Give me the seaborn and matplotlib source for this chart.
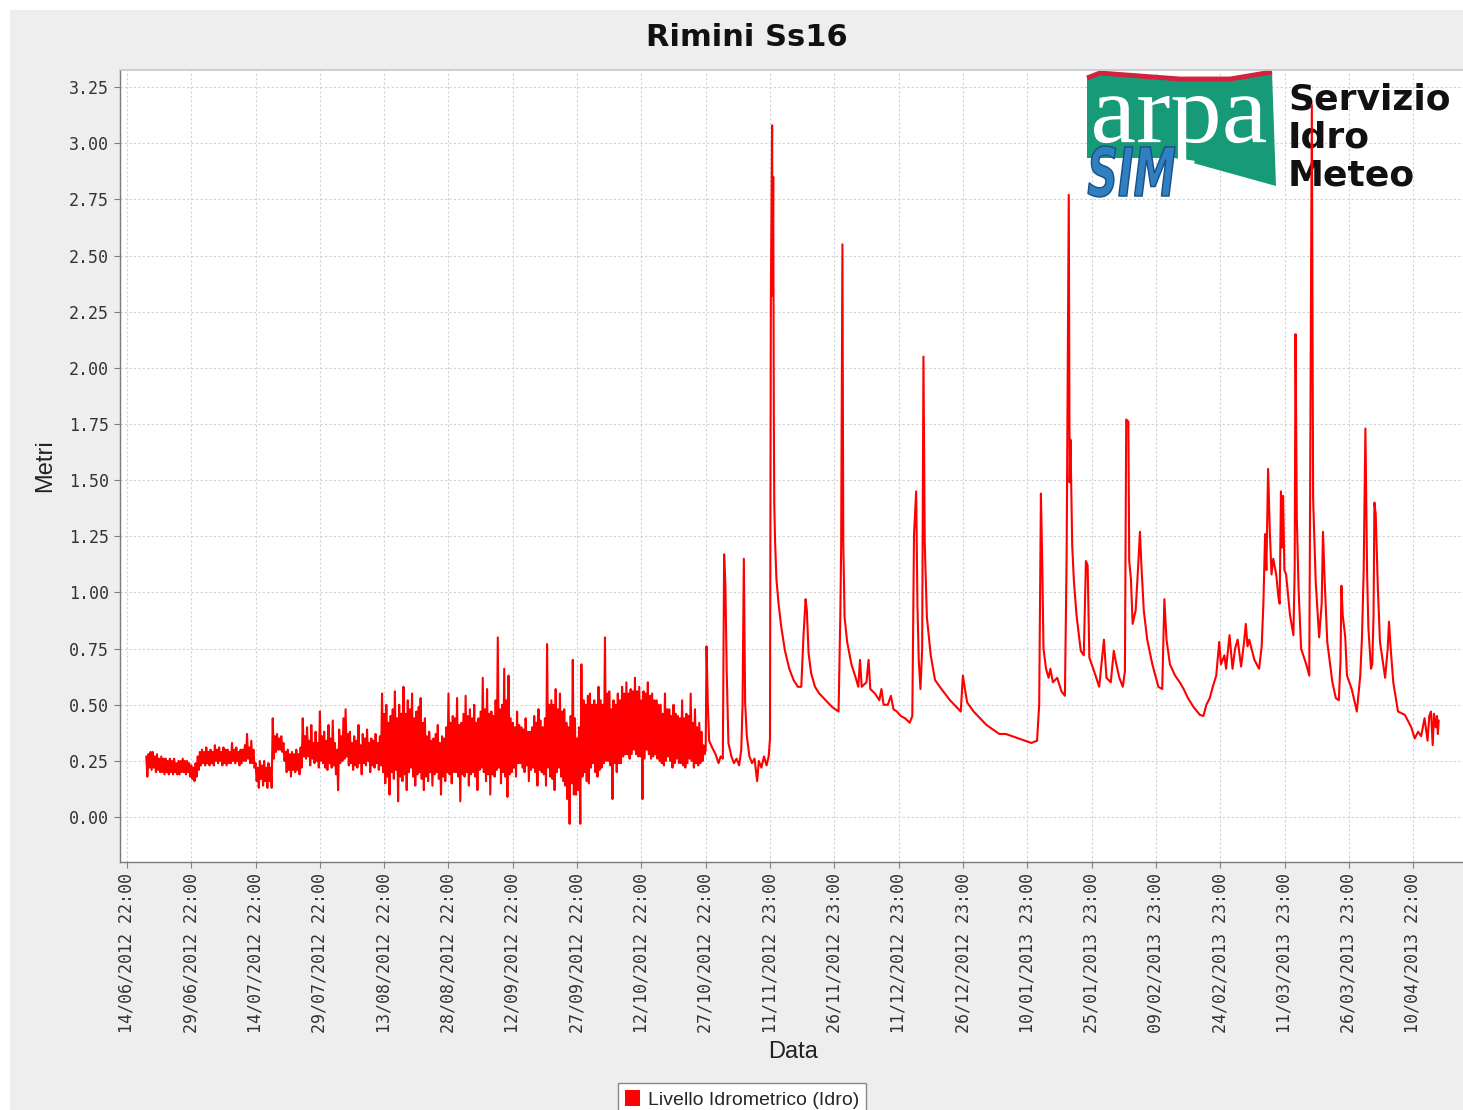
import numpy as np
import pandas as pd
import matplotlib
matplotlib.use("Agg")
import matplotlib.pyplot as plt
import seaborn as sns
from matplotlib.patches import Polygon, PathPatch, Rectangle, Patch
from matplotlib.textpath import TextPath
from matplotlib.font_manager import FontProperties, fontManager
from matplotlib.transforms import Affine2D

# ---------------------------------------------------------------------------
# Water level at Rimini Ss16 (metres), days counted from 14/06/2012 22:00
# ---------------------------------------------------------------------------
dense_start_day = 4.5
half_day = 0.5

# Summer / autumn: highest and lowest reading in each half day
# (4.5 .. 59.0 days)
summer_high = [
    0.27, 0.28, 0.29, 0.29, 0.27, 0.28, 0.26, 0.27, 0.26, 0.26,
    0.25, 0.26, 0.25, 0.26, 0.24, 0.25, 0.25, 0.26, 0.25, 0.25,
    0.24, 0.23, 0.22, 0.24, 0.27, 0.29, 0.30, 0.29, 0.31, 0.29,
    0.30, 0.29, 0.32, 0.30, 0.31, 0.29, 0.31, 0.30, 0.30, 0.29,
    0.33, 0.30, 0.31, 0.29, 0.30, 0.30, 0.32, 0.37, 0.31, 0.34,
    0.30, 0.24, 0.22, 0.25, 0.23, 0.25, 0.22, 0.24, 0.22, 0.44,
    0.36, 0.37, 0.35, 0.36, 0.33, 0.29, 0.30, 0.28, 0.29, 0.28,
    0.30, 0.28, 0.31, 0.44, 0.36, 0.40, 0.34, 0.41, 0.33, 0.38,
    0.33, 0.47, 0.36, 0.38, 0.34, 0.41, 0.35, 0.43, 0.33, 0.30,
    0.39, 0.36, 0.44, 0.48, 0.37, 0.38, 0.33, 0.36, 0.34, 0.41,
    0.32, 0.37, 0.35, 0.39, 0.33, 0.35, 0.34, 0.37, 0.33, 0.36,
]
summer_low = [
    0.18, 0.22, 0.21, 0.22, 0.20, 0.21, 0.20, 0.20, 0.19, 0.20,
    0.19, 0.20, 0.19, 0.20, 0.19, 0.19, 0.20, 0.20, 0.19, 0.20,
    0.18, 0.17, 0.16, 0.18, 0.21, 0.23, 0.24, 0.23, 0.24, 0.23,
    0.24, 0.23, 0.25, 0.24, 0.25, 0.23, 0.24, 0.23, 0.24, 0.24,
    0.25, 0.24, 0.25, 0.23, 0.24, 0.25, 0.25, 0.26, 0.24, 0.24,
    0.22, 0.16, 0.13, 0.17, 0.14, 0.16, 0.13, 0.16, 0.13, 0.26,
    0.29, 0.30, 0.30, 0.29, 0.25, 0.20, 0.21, 0.18, 0.21, 0.20,
    0.21, 0.19, 0.22, 0.27, 0.26, 0.27, 0.23, 0.26, 0.24, 0.25,
    0.22, 0.25, 0.24, 0.22, 0.21, 0.24, 0.22, 0.23, 0.19, 0.12,
    0.24, 0.25, 0.26, 0.27, 0.23, 0.24, 0.21, 0.23, 0.22, 0.24,
    0.19, 0.24, 0.23, 0.25, 0.20, 0.23, 0.22, 0.24, 0.21, 0.23,
]

# (59.5 .. 134.5 days)
autumn_high = [
    0.55, 0.46, 0.50, 0.42, 0.45, 0.48, 0.56, 0.44, 0.50, 0.46,
    0.58, 0.46, 0.52, 0.48, 0.55, 0.44, 0.47, 0.49, 0.53, 0.42,
    0.44, 0.36, 0.38, 0.34, 0.35, 0.37, 0.41, 0.33, 0.36, 0.35,
    0.40, 0.55, 0.42, 0.45, 0.44, 0.53, 0.41, 0.42, 0.46, 0.54,
    0.45, 0.48, 0.44, 0.50, 0.42, 0.44, 0.47, 0.62, 0.48, 0.57,
    0.46, 0.47, 0.45, 0.52, 0.80, 0.48, 0.50, 0.66, 0.52, 0.63,
    0.44, 0.42, 0.40, 0.47, 0.41, 0.40, 0.39, 0.44, 0.38, 0.38,
    0.40, 0.45, 0.42, 0.48, 0.43, 0.40, 0.44, 0.77, 0.50, 0.52,
    0.50, 0.57, 0.48, 0.55, 0.47, 0.48, 0.42, 0.40, 0.45, 0.70,
    0.44, 0.35, 0.40, 0.68, 0.52, 0.50, 0.54, 0.55, 0.50, 0.52,
    0.50, 0.58, 0.52, 0.50, 0.80, 0.55, 0.56, 0.48, 0.52, 0.50,
    0.55, 0.52, 0.58, 0.55, 0.60, 0.55, 0.57, 0.56, 0.62, 0.56,
    0.58, 0.52, 0.56, 0.55, 0.60, 0.54, 0.55, 0.52, 0.52, 0.50,
    0.50, 0.46, 0.55, 0.48, 0.48, 0.45, 0.50, 0.46, 0.45, 0.44,
    0.52, 0.44, 0.46, 0.45, 0.55, 0.42, 0.48, 0.40, 0.42, 0.38,
    0.32,
]
autumn_low = [
    0.20, 0.15, 0.18, 0.10, 0.20, 0.17, 0.21, 0.07, 0.18, 0.16,
    0.19, 0.12, 0.20, 0.22, 0.18, 0.14, 0.19, 0.20, 0.17, 0.12,
    0.18, 0.16, 0.20, 0.14, 0.19, 0.20, 0.17, 0.10, 0.18, 0.16,
    0.20, 0.19, 0.15, 0.20, 0.20, 0.18, 0.07, 0.19, 0.18, 0.20,
    0.14, 0.19, 0.20, 0.18, 0.12, 0.21, 0.22, 0.20, 0.16, 0.19,
    0.10, 0.19, 0.18, 0.21, 0.22, 0.15, 0.20, 0.18, 0.09, 0.19,
    0.20, 0.22, 0.18, 0.24, 0.24, 0.22, 0.20, 0.23, 0.16, 0.21,
    0.22, 0.20, 0.14, 0.21, 0.20, 0.19, 0.14, 0.22, 0.18, 0.17,
    0.12, 0.20, 0.22, 0.18, 0.16, 0.14, 0.08, -0.03, 0.15, 0.10,
    0.10, 0.12, -0.03, 0.18, 0.20, 0.16, 0.15, 0.22, 0.24, 0.20,
    0.18, 0.21, 0.22, 0.24, 0.25, 0.25, 0.23, 0.08, 0.24, 0.20,
    0.24, 0.24, 0.27, 0.28, 0.28, 0.26, 0.28, 0.30, 0.28, 0.27,
    0.27, 0.08, 0.26, 0.30, 0.28, 0.26, 0.27, 0.28, 0.26, 0.25,
    0.24, 0.23, 0.25, 0.27, 0.25, 0.22, 0.24, 0.26, 0.24, 0.24,
    0.23, 0.22, 0.24, 0.26, 0.25, 0.22, 0.24, 0.23, 0.24, 0.25,
    0.28,
]

# Flood season: irregular readings around each flood peak
winter_days = [
    135.0, 135.2, 135.5, 135.8, 136.5, 137.3, 138.0, 138.5, 139.0, 139.3,
    139.6, 139.9, 140.3, 141.0, 141.6, 142.2, 142.8, 143.3, 143.6, 143.9,
    144.2, 144.6, 145.2, 145.8, 146.4, 147.0, 147.4, 148.0, 148.6, 149.2,
    149.7, 150.0, 150.2, 150.4, 150.5, 150.6, 150.75, 150.9, 151.0, 151.2,
    151.5, 152.0, 152.6, 153.5, 154.5, 155.5, 156.5, 157.3, 157.8, 158.3,
    158.6, 159.0, 159.6, 160.5, 161.5, 163.0, 164.5, 166.0, 166.4, 166.6,
    166.9, 167.1, 167.4, 168.0, 169.0, 170.0, 170.6, 171.0, 171.4, 172.5,
    173.0, 173.4, 174.5, 175.5, 176.0, 176.5, 177.5, 178.2, 178.8, 179.6,
    180.5, 181.5, 182.6, 183.2, 183.6, 184.1, 184.4, 184.7, 185.1, 185.5,
    185.8, 186.1, 186.6, 187.5, 188.5, 190.0, 192.0, 194.5, 195.0, 195.4,
    196.0, 197.5, 199.0, 200.5, 202.0, 203.5, 205.0, 206.5, 208.0, 209.5,
    211.0, 212.3, 212.8, 213.2, 213.5, 213.8, 214.4, 215.0, 215.4, 216.0,
    217.0, 218.0, 218.8, 219.2, 219.7, 219.9, 220.1, 220.5, 220.9, 221.5,
    222.5, 223.2, 223.7, 224.1, 224.5, 225.6, 226.8, 227.9, 228.5, 229.5,
    230.2, 230.8, 231.5, 232.3, 232.8, 233.1, 233.6, 233.8, 234.2, 234.6,
    235.3, 235.9, 236.3, 236.7, 237.2, 238.0, 239.2, 240.6, 241.5, 242.0,
    242.5, 243.3, 244.5, 245.6, 246.5, 247.5, 248.8, 250.3, 251.1, 251.8,
    252.6, 253.3, 254.1, 254.8, 255.2, 256.0, 256.4, 257.2, 257.9, 258.5,
    259.1, 259.9, 260.6, 261.0, 261.4, 261.8, 263.0, 264.1, 264.7, 265.1,
    265.5, 265.8, 266.2, 266.6, 267.0, 267.4, 268.1, 268.6, 268.9, 269.2,
    269.4, 269.7, 270.0, 270.4, 270.9, 271.3, 272.1, 272.4, 272.6, 272.9,
    273.3, 273.9, 275.1, 275.8, 276.0, 276.4, 276.7, 276.9, 277.3, 278.1,
    278.7, 279.0, 279.4, 280.0, 281.2, 282.0, 282.7, 283.1, 283.3, 283.6,
    284.2, 284.6, 285.7, 286.9, 287.7, 288.1, 288.5, 288.9, 289.3, 289.6,
    290.2, 290.5, 290.8, 291.0, 291.3, 291.8, 292.3, 293.5, 294.1, 294.4,
    294.8, 295.4, 296.5, 298.1, 299.6, 300.4, 301.2, 301.9, 302.7, 303.4,
    303.8, 304.2, 304.6, 304.9, 305.3, 305.6, 305.8, 306.0,
]
winter_level = [
    0.30, 0.76, 0.50, 0.34, 0.31, 0.28, 0.24, 0.27, 0.26, 1.17,
    1.03, 0.65, 0.33, 0.27, 0.24, 0.26, 0.23, 0.30, 0.50, 1.15,
    0.51, 0.36, 0.27, 0.24, 0.26, 0.16, 0.25, 0.22, 0.27, 0.23,
    0.27, 0.35, 2.30, 2.85, 3.08, 2.32, 2.85, 1.76, 1.39, 1.22,
    1.06, 0.95, 0.85, 0.74, 0.66, 0.61, 0.58, 0.58, 0.80, 0.97,
    0.92, 0.73, 0.64, 0.58, 0.55, 0.52, 0.49, 0.47, 0.89, 1.20,
    2.55, 1.22, 0.89, 0.78, 0.68, 0.62, 0.58, 0.70, 0.58, 0.60,
    0.70, 0.57, 0.55, 0.52, 0.57, 0.50, 0.50, 0.54, 0.48, 0.47,
    0.45, 0.44, 0.42, 0.45, 1.26, 1.45, 0.94, 0.70, 0.57, 0.75,
    2.05, 1.22, 0.89, 0.72, 0.61, 0.57, 0.52, 0.47, 0.63, 0.58,
    0.51, 0.47, 0.44, 0.41, 0.39, 0.37, 0.37, 0.36, 0.35, 0.34,
    0.33, 0.34, 0.50, 1.44, 1.14, 0.75, 0.66, 0.62, 0.66, 0.60,
    0.62, 0.56, 0.54, 1.16, 2.77, 1.49, 1.68, 1.21, 1.05, 0.90,
    0.74, 0.72, 1.14, 1.12, 0.71, 0.65, 0.58, 0.79, 0.62, 0.60,
    0.74, 0.68, 0.62, 0.58, 0.65, 1.77, 1.76, 1.14, 1.06, 0.86,
    0.92, 1.12, 1.27, 1.10, 0.92, 0.79, 0.68, 0.58, 0.57, 0.97,
    0.79, 0.68, 0.63, 0.60, 0.57, 0.53, 0.49, 0.455, 0.45, 0.50,
    0.53, 0.58, 0.63, 0.78, 0.68, 0.72, 0.66, 0.81, 0.66, 0.75,
    0.79, 0.67, 0.78, 0.86, 0.76, 0.79, 0.70, 0.66, 0.76, 0.95,
    1.26, 1.10, 1.55, 1.27, 1.08, 1.15, 1.08, 0.98, 0.95, 1.45,
    1.20, 1.43, 1.10, 1.08, 0.98, 0.90, 0.81, 1.10, 2.15, 1.33,
    1.02, 0.75, 0.68, 0.63, 1.42, 3.17, 1.42, 1.30, 1.05, 0.80,
    0.95, 1.27, 1.05, 0.78, 0.60, 0.53, 0.52, 0.70, 1.03, 0.90,
    0.80, 0.63, 0.57, 0.47, 0.63, 0.80, 1.10, 1.73, 1.08, 0.84,
    0.66, 0.68, 0.90, 1.40, 1.35, 1.02, 0.78, 0.62, 0.75, 0.87,
    0.75, 0.60, 0.47, 0.455, 0.40, 0.35, 0.38, 0.36, 0.44, 0.34,
    0.45, 0.47, 0.32, 0.46, 0.40, 0.45, 0.37, 0.43,
]

axis_origin = "14/06/2012 22:00"
tick_labels = [
    "14/06/2012 22:00", "29/06/2012 22:00", "14/07/2012 22:00",
    "29/07/2012 22:00", "13/08/2012 22:00", "28/08/2012 22:00",
    "12/09/2012 22:00", "27/09/2012 22:00", "12/10/2012 22:00",
    "27/10/2012 22:00", "11/11/2012 23:00", "26/11/2012 23:00",
    "11/12/2012 23:00", "26/12/2012 23:00", "10/01/2013 23:00",
    "25/01/2013 23:00", "09/02/2013 23:00", "24/02/2013 23:00",
    "11/03/2013 23:00", "26/03/2013 23:00", "10/04/2013 22:00",
]
y_ticks = [0.00, 0.25, 0.50, 0.75, 1.00, 1.25, 1.50, 1.75, 2.00,
           2.25, 2.50, 2.75, 3.00, 3.25]

# ---------------------------------------------------------------------------
# each half day: its high reading, then its low reading a quarter day later
highs = np.array(summer_high + autumn_high)
lows = np.array(summer_low + autumn_low)
half_day_starts = dense_start_day + half_day * np.arange(len(highs))
dense_days = np.column_stack([half_day_starts, half_day_starts + half_day / 2]).ravel()
dense_level = np.column_stack([highs, lows]).ravel()

df = pd.DataFrame({
    "day": np.concatenate([dense_days, winter_days]),
    "level": np.concatenate([dense_level, winter_level]),
})

fmt = "%d/%m/%Y %H:%M"
origin = pd.to_datetime(axis_origin, format=fmt)
tick_days = [(pd.to_datetime(s, format=fmt) - origin).total_seconds() / 86400
             for s in tick_labels]

W, H = 1463, 1110
sns.set_theme(style="white")
names = {f.name for f in fontManager.ttflist}
narrow = "Liberation Sans Narrow" if "Liberation Sans Narrow" in names else "Liberation Sans"
plt.rcParams["font.family"] = ["DejaVu Sans"]

fig = plt.figure(figsize=(W / 100, H / 100), dpi=100, facecolor="white")
fig.patches.append(Rectangle((10 / W, 0), 1, 1 - 10 / H, transform=fig.transFigure,
                             facecolor="#eeeeee", edgecolor="none", zorder=-10))
px = Affine2D().scale(1 / W, 1 / H) + fig.transFigure

ax = fig.add_axes([120 / W, 248 / H, 1350 / W, 792 / H])
ax.set_facecolor("white")

sns.lineplot(data=df, x="day", y="level", ax=ax, color="#ff0000", lw=1.5,
             estimator=None, sort=False, legend=False, zorder=3)

ax.set_xlim(-1.63, 313.3)
ax.set_ylim(-0.20, 3.326)
ax.set_xticks(tick_days)
ax.set_xticklabels(tick_labels, rotation=90, family="DejaVu Sans Mono",
                   fontsize=12, color="#333333")
ax.set_yticks(y_ticks)
ax.set_yticklabels([f"{v:.2f}" for v in y_ticks], family="DejaVu Sans Mono",
                   fontsize=12, color="#333333")
ax.tick_params(axis="both", direction="out", length=4, width=0.8,
               color="#808080", pad=4)
ax.tick_params(axis="x", bottom=True)
ax.tick_params(axis="y", left=True)
ax.grid(True, color="#d2d2d2", linestyle=(0, (2, 2)), lw=0.8)
ax.set_axisbelow(True)
for side in ("left", "bottom"):
    ax.spines[side].set_color("#7a7a7a")
    ax.spines[side].set_linewidth(1.0)
ax.spines["top"].set_color("#c8c8c8")
ax.spines["right"].set_visible(False)

ax.set_ylabel("Metri", family=narrow, fontsize=17, color="#222222")
ax.yaxis.set_label_coords(-0.0556, 0.5)
ax.yaxis.label.set_va("center")
ax.set_xlabel("Data", family=narrow, fontsize=17, color="#222222")
ax.xaxis.set_label_coords(0.4985, -0.24)
ax.xaxis.label.set_va("center")

fig.text(747 / W, 1 - 38 / H, "Rimini Ss16", ha="center", va="center",
         fontsize=22, fontweight="bold", color="#111111")

# ARPA SIM logo in the upper right of the plot area
green = Polygon([(1087, H - 78), (1100, H - 73), (1180, H - 79), (1230, H - 79),
                 (1272, H - 72), (1276, H - 186), (1175, H - 158), (1087, H - 158)],
                closed=True, transform=px, facecolor="#179a78", edgecolor="none",
                zorder=2.4)
ax.add_patch(green)
ax.plot([1087, 1100, 1180, 1230, 1272], [H - 78, H - 73, H - 79, H - 79, H - 72],
        transform=px, color="#d4213d", lw=3.5, solid_capstyle="butt", zorder=2.45)


def fitted_text(text, box, prop, **kw):
    path = TextPath((0, 0), text, size=100, prop=prop)
    ext = path.get_extents()
    x0, ytop, x1, ybot = box
    tr = (Affine2D().translate(-ext.x0, -ext.y0)
          .scale((x1 - x0) / ext.width, (ybot - ytop) / ext.height)
          .translate(x0, H - ybot) + px)
    return PathPatch(path, transform=tr, **kw)


ax.add_patch(fitted_text("arpa", (1094, 96, 1266, 163),
                         FontProperties(family="Liberation Serif"),
                         facecolor="white", edgecolor="none", zorder=2.5))
ax.add_patch(fitted_text("SIM", (1088, 146, 1175, 197),
                         FontProperties(family="DejaVu Sans", weight="bold",
                                        style="oblique"),
                         facecolor="#2f7fc1", edgecolor="#174f86", lw=1.0,
                         zorder=2.55))
for word, base in (("Servizio", 110), ("Idro", 148), ("Meteo", 185)):
    ax.text(1288, H - base, word, transform=px, fontsize=26, fontweight="bold",
            color="#111111", ha="left", va="baseline", zorder=2.6)

handle = Patch(facecolor="#ff0000", edgecolor="none",
               label="Livello Idrometrico (Idro)")
fig.legend(handles=[handle], loc="upper left",
           bbox_to_anchor=(618 / W, 1 - 1083 / H), bbox_transform=fig.transFigure,
           frameon=True, fancybox=False, edgecolor="#888888", facecolor="white",
           framealpha=1, handlelength=0.8, handleheight=0.9, handletextpad=0.4,
           borderpad=0.35, borderaxespad=0,
           prop=FontProperties(family=narrow, size=14))

fig.savefig("out.png", dpi=100, facecolor=fig.get_facecolor())
